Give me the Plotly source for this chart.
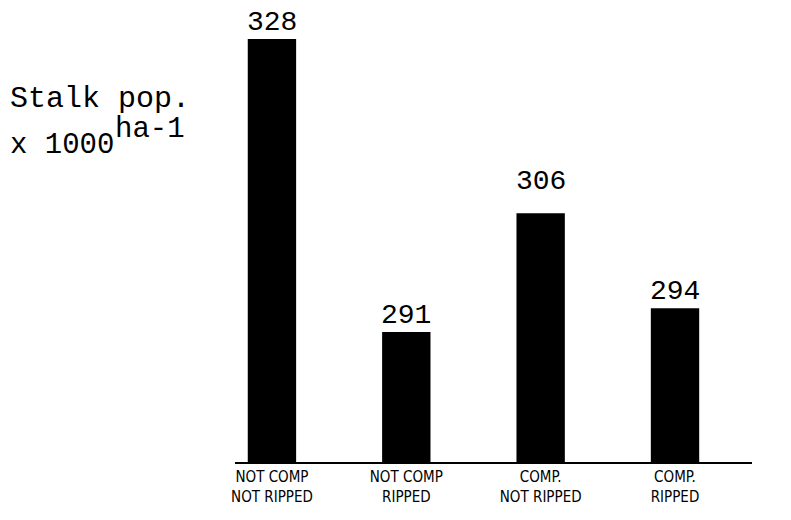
import plotly.graph_objects as go

categories = ["NOT COMP<br>NOT RIPPED", "NOT COMP<br>RIPPED", "COMP.<br>NOT RIPPED", "COMP.<br>RIPPED"]
values = [328, 291, 306, 294]
value_labels = ["328", "291", "306", "294"]

W, H = 791, 520
OFF = 8  # page margin offset in the screenshot
L, R, T, B = 227, 47, 0, 66
pw, ph = W - L - R, H - T - B

def px_x(px):
    return (px - OFF - L) / pw

def px_y(py):
    return (H - B - (py - OFF)) / ph

fig = go.Figure(go.Bar(
    x=categories, y=values,
    marker=dict(color="black", line=dict(width=0)),
    width=0.36, cliponaxis=False,
))

label_shift = [-1, -1, 14, -1]
for c, v, t, s in zip(categories, values, value_labels, label_shift):
    fig.add_annotation(x=c, y=v, text=t, xref="x", yref="y", showarrow=False,
                       xanchor="center", yanchor="bottom", yshift=s,
                       font=dict(family="Liberation Mono", size=28, color="black"))

fig.add_annotation(text="Stalk pop.", xref="paper", yref="paper", x=px_x(8), y=px_y(99),
                   xanchor="left", yanchor="middle", showarrow=False,
                   font=dict(family="Liberation Mono", size=30, color="black"))
fig.add_annotation(text="x 1000", xref="paper", yref="paper", x=px_x(8), y=px_y(145),
                   xanchor="left", yanchor="middle", showarrow=False,
                   font=dict(family="Liberation Mono", size=29, color="black"))
fig.add_annotation(text="ha-1", xref="paper", yref="paper", x=px_x(113), y=px_y(130),
                   xanchor="left", yanchor="middle", showarrow=False,
                   font=dict(family="Liberation Mono", size=29, color="black"))

fig.update_layout(
    width=W, height=H, margin=dict(l=L, r=R, t=T, b=B, autoexpand=False),
    paper_bgcolor="white", plot_bgcolor="white", showlegend=False,
    xaxis=dict(range=[-0.275, 3.573], showline=True, linecolor="black", linewidth=2,
               ticks="", showgrid=False, zeroline=False,
               tickfont=dict(family="DejaVu Sans Condensed", size=15, color="black")),
    yaxis=dict(range=[274.6, 331.9], visible=False, showgrid=False, zeroline=False),
)

fig.write_html("out.html")
